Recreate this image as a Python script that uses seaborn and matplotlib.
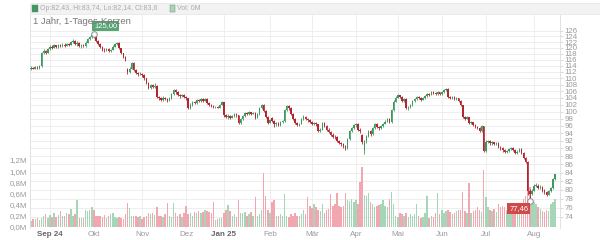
import numpy as np
import pandas as pd
import matplotlib
matplotlib.use("Agg")
import matplotlib.pyplot as plt
import seaborn as sns
from matplotlib.patches import Rectangle
from matplotlib.ticker import NullLocator, FixedLocator

# ---------------- data ----------------
start_date = "2024-08-20"
end_date = "2025-08-15"
holidays = ["2024-12-24", "2024-12-25", "2024-12-26", "2024-12-31",
            "2025-01-01", "2025-04-18", "2025-04-21", "2025-05-01"]

open_ = [
    113.0, 113.3, 113.1, 113.6, 113.4, 113.9, 118.4, 118.9, 118.4, 119.6,
    120.4, 120.0, 120.8, 120.3, 120.9, 120.6, 121.1, 120.7, 121.3, 121.0,
    121.9, 122.3, 121.2, 121.8, 120.5, 120.9, 120.6, 121.8, 122.9, 123.6,
    124.4, 123.8, 122.4, 121.3, 120.2, 119.4, 119.1, 119.5, 118.9, 119.3,
    120.4, 121.3, 121.6, 119.8, 118.1, 117.0, 113.0, 111.9, 113.0, 114.8,
    112.6, 111.6, 111.2, 111.5, 110.9, 110.0, 108.4, 107.0, 107.9, 107.4,
    107.6, 104.3, 104.0, 103.4, 104.1, 103.6, 103.2, 103.8, 105.2, 106.3,
    105.7, 104.8, 104.5, 104.9, 104.3, 103.9, 101.0, 102.0, 102.7, 102.5,
    103.3, 103.0, 103.6, 103.2, 103.8, 102.5, 101.8, 101.6, 101.2, 101.4,
    101.1, 102.0, 102.7, 98.9, 98.5, 98.8, 98.3, 98.7, 99.3, 98.9,
    96.8, 97.9, 98.8, 99.5, 99.3, 99.8, 99.4, 99.7, 98.3, 99.2,
    100.9, 101.9, 100.2, 98.4, 96.9, 98.3, 97.4, 96.5, 96.9, 96.3,
    97.0, 97.4, 100.4, 101.6, 101.0, 99.4, 97.9, 96.9, 96.2, 96.6,
    97.8, 98.6, 97.9, 97.5, 97.0, 96.6, 96.9, 96.4, 94.6, 95.0,
    96.9, 96.0, 95.0, 94.3, 93.6, 93.1, 92.9, 92.0, 91.5, 91.1,
    90.6, 90.0, 92.4, 94.6, 95.4, 96.2, 96.5, 95.0, 93.5, 89.6,
    91.9, 93.2, 94.6, 93.7, 95.3, 96.6, 95.8, 95.3, 96.0, 96.6,
    97.2, 97.9, 97.0, 100.4, 102.9, 104.1, 104.8, 104.3, 103.0, 103.8,
    101.0, 101.4, 101.8, 103.0, 103.6, 104.4, 104.0, 103.5, 103.9, 104.6,
    105.2, 105.0, 105.8, 105.5, 105.1, 105.7, 105.1, 105.8, 106.4, 106.7,
    104.4, 104.0, 104.3, 103.6, 103.9, 103.2, 101.9, 98.4, 98.0, 98.4,
    96.7, 97.0, 96.3, 95.8, 95.5, 94.6, 95.9, 89.3, 91.6, 91.9,
    91.3, 91.6, 91.1, 91.5, 90.4, 90.0, 89.6, 89.1, 89.3, 89.8,
    90.1, 89.6, 88.9, 89.2, 89.8, 88.9, 87.6, 86.6, 79.6, 79.1,
    79.8, 80.9, 80.9, 80.4, 80.7, 79.8, 79.4, 78.9, 79.6, 80.3, 82.43,
]
close = [
    113.3, 113.1, 113.6, 113.4, 113.8, 118.2, 118.9, 118.4, 119.6, 120.4,
    120.0, 120.8, 120.3, 120.9, 120.6, 121.1, 120.7, 121.3, 121.0, 121.9,
    122.3, 121.2, 121.8, 120.5, 120.9, 120.6, 121.8, 122.9, 123.6, 124.4,
    123.8, 122.4, 121.3, 120.2, 119.4, 119.1, 119.5, 118.9, 119.3, 120.4,
    121.3, 121.6, 119.8, 118.1, 117.0, 116.0, 111.9, 113.0, 114.8, 112.6,
    111.6, 111.2, 111.5, 110.9, 110.0, 108.4, 107.0, 107.9, 107.4, 107.6,
    104.3, 103.9, 103.4, 104.1, 103.6, 103.2, 103.8, 105.2, 106.3, 105.7,
    104.8, 104.5, 104.9, 104.3, 103.9, 101.0, 102.0, 102.7, 102.5, 103.3,
    103.0, 103.6, 103.2, 103.8, 102.5, 101.8, 101.6, 101.2, 101.4, 101.1,
    102.0, 102.7, 98.9, 98.5, 98.8, 98.3, 98.7, 99.3, 98.9, 96.8,
    97.9, 98.8, 99.5, 99.3, 99.8, 99.4, 99.7, 98.3, 99.2, 100.9,
    101.9, 100.2, 98.4, 96.9, 97.5, 97.4, 96.5, 96.9, 96.3, 97.0,
    97.4, 100.4, 101.6, 101.0, 99.4, 97.9, 96.9, 96.2, 96.6, 97.8,
    98.6, 97.9, 97.5, 97.0, 96.6, 96.9, 96.4, 94.6, 95.0, 96.9,
    96.0, 95.0, 94.3, 93.6, 93.1, 92.9, 92.0, 91.5, 91.1, 90.6,
    90.0, 92.4, 94.6, 95.4, 96.2, 96.5, 95.0, 94.6, 91.6, 91.9,
    93.2, 94.6, 93.7, 95.3, 96.6, 95.8, 95.3, 96.0, 96.6, 97.2,
    97.9, 97.0, 100.4, 102.9, 104.1, 104.8, 104.3, 103.0, 103.8, 101.0,
    101.4, 101.8, 103.0, 103.6, 104.4, 104.0, 103.5, 103.9, 104.6, 105.2,
    105.0, 105.8, 105.5, 105.1, 105.7, 105.1, 105.8, 106.4, 106.7, 104.4,
    104.0, 104.3, 103.6, 103.9, 103.2, 101.9, 98.4, 98.0, 98.4, 96.7,
    97.0, 96.3, 95.8, 95.5, 94.6, 95.9, 89.3, 91.6, 91.9, 91.3,
    91.6, 91.1, 91.5, 90.4, 90.0, 89.6, 89.1, 89.3, 89.8, 90.1,
    89.6, 88.9, 89.2, 89.8, 88.9, 87.6, 86.6, 79.6, 79.1, 79.8,
    80.9, 81.1, 80.4, 80.7, 79.8, 79.4, 78.9, 79.6, 80.3, 82.4, 83.6,
]
high = [
    113.8, 113.7, 113.9, 114.0, 114.2, 118.6, 119.5, 119.3, 120.0, 120.9,
    120.8, 121.2, 121.1, 121.3, 121.4, 121.5, 121.6, 121.7, 121.8, 122.4,
    122.9, 122.6, 122.2, 122.0, 121.3, 121.2, 122.2, 123.3, 124.0, 124.8,
    125.0, 124.0, 122.7, 121.6, 120.5, 119.8, 119.9, 119.8, 119.7, 120.8,
    121.7, 122.0, 121.9, 120.0, 118.4, 117.3, 113.4, 113.5, 115.3, 115.1,
    112.9, 112.0, 111.9, 111.7, 111.2, 110.2, 108.7, 108.3, 108.2, 108.5,
    107.9, 104.7, 104.3, 104.5, 104.4, 104.0, 104.2, 105.6, 106.8, 106.6,
    106.0, 105.1, 105.2, 105.1, 104.6, 104.0, 102.4, 103.0, 103.0, 103.6,
    103.6, 103.9, 103.9, 104.1, 104.0, 102.8, 102.1, 101.9, 101.6, 101.6,
    102.3, 103.0, 102.9, 99.3, 99.2, 99.0, 99.0, 99.6, 99.7, 99.1,
    98.2, 99.1, 99.8, 99.9, 100.1, 100.0, 100.0, 99.9, 99.5, 101.2,
    102.3, 102.1, 100.4, 98.7, 97.9, 98.6, 97.6, 97.2, 97.1, 97.4,
    97.7, 100.7, 102.0, 101.9, 101.2, 99.6, 98.2, 97.2, 96.9, 98.1,
    98.9, 98.8, 98.3, 97.8, 97.3, 97.2, 97.1, 96.6, 95.4, 97.2,
    97.1, 96.3, 95.3, 94.6, 94.0, 93.4, 93.2, 92.3, 91.8, 91.4,
    90.9, 92.7, 94.9, 95.8, 96.6, 96.9, 96.7, 95.3, 93.8, 92.3,
    93.6, 95.0, 94.9, 95.6, 96.9, 96.9, 96.1, 96.3, 96.9, 97.6,
    98.3, 98.1, 100.7, 103.3, 104.5, 105.2, 105.0, 104.5, 104.1, 104.0,
    101.7, 102.1, 103.3, 103.9, 104.7, 104.6, 104.2, 104.2, 104.9, 105.5,
    105.6, 106.1, 106.0, 105.8, 106.0, 105.9, 106.1, 106.8, 107.1, 106.9,
    104.7, 104.6, 104.5, 104.2, 104.1, 103.4, 102.0, 98.7, 98.7, 98.6,
    97.4, 97.2, 96.5, 96.0, 95.7, 96.3, 96.1, 92.2, 92.3, 92.1,
    91.9, 91.8, 91.8, 91.7, 90.7, 90.3, 89.9, 89.6, 90.1, 90.4,
    90.3, 89.8, 89.5, 90.1, 90.0, 89.1, 87.9, 86.8, 80.1, 80.2,
    81.3, 81.5, 81.2, 81.0, 80.9, 80.1, 79.7, 79.9, 80.6, 82.7, 83.74,
]
low = [
    112.6, 112.8, 112.9, 113.0, 113.1, 113.7, 118.0, 117.9, 118.2, 119.3,
    119.6, 119.8, 119.9, 120.0, 120.2, 120.3, 120.4, 120.5, 120.6, 120.8,
    121.6, 120.9, 120.6, 120.2, 120.1, 120.2, 120.4, 121.6, 122.6, 123.3,
    123.4, 122.1, 121.0, 119.9, 119.0, 118.6, 118.8, 118.5, 118.6, 119.1,
    120.2, 120.9, 119.5, 117.8, 116.6, 115.6, 111.3, 111.6, 112.8, 112.3,
    111.2, 110.8, 110.9, 110.5, 109.6, 108.1, 106.7, 106.8, 107.1, 107.0,
    104.0, 103.5, 103.0, 103.2, 103.3, 102.8, 103.0, 103.6, 105.0, 105.3,
    104.5, 104.1, 104.2, 104.0, 103.5, 100.7, 100.8, 101.7, 102.1, 102.3,
    102.7, 102.8, 102.9, 103.0, 102.2, 101.5, 101.2, 100.9, 101.0, 100.9,
    100.9, 101.8, 98.6, 98.2, 98.0, 98.0, 98.1, 98.5, 98.6, 96.5,
    96.6, 97.7, 98.6, 99.0, 99.1, 99.1, 99.2, 97.9, 98.1, 99.0,
    100.7, 99.9, 98.1, 96.6, 96.7, 97.1, 95.8, 96.1, 95.9, 96.1,
    96.8, 97.2, 100.2, 100.6, 99.1, 97.6, 96.6, 95.9, 95.9, 96.4,
    97.6, 97.6, 97.1, 96.7, 96.3, 96.3, 96.1, 94.3, 94.3, 94.8,
    95.7, 94.7, 94.0, 93.2, 92.8, 92.5, 91.7, 91.1, 90.7, 90.2,
    89.6, 89.8, 92.2, 94.3, 95.1, 95.8, 94.7, 94.1, 91.2, 88.6,
    91.3, 92.9, 93.3, 93.5, 95.1, 95.5, 95.0, 95.1, 95.8, 96.4,
    97.0, 96.7, 96.9, 100.2, 102.7, 103.9, 104.0, 102.7, 102.8, 100.7,
    100.6, 101.1, 101.6, 102.8, 103.4, 103.7, 103.2, 103.3, 103.7, 104.4,
    104.7, 104.8, 105.2, 104.8, 104.9, 104.8, 104.9, 105.6, 106.2, 104.1,
    103.7, 103.8, 103.3, 103.4, 102.9, 101.6, 98.1, 97.7, 97.8, 96.4,
    96.5, 96.0, 95.5, 95.1, 94.3, 94.4, 89.0, 89.1, 91.3, 91.0,
    91.0, 90.8, 90.9, 90.1, 89.7, 89.2, 88.8, 88.9, 89.1, 89.6,
    89.3, 88.6, 88.7, 89.0, 88.6, 87.3, 86.3, 78.8, 77.46, 78.8,
    79.6, 80.6, 80.1, 80.2, 79.5, 79.1, 78.5, 78.7, 79.4, 80.2, 82.14,
]
volume_m = [
    0.11, 0.13, 0.14, 0.15, 0.12, 0.16, 0.20, 0.23, 0.16, 0.21,
    0.18, 0.24, 0.17, 0.21, 0.28, 0.19, 0.20, 0.25, 0.22, 0.31,
    0.20, 0.23, 0.48, 0.15, 0.15, 0.16, 0.30, 0.28, 0.30, 0.35,
    0.30, 0.20, 0.19, 0.20, 0.18, 0.21, 0.16, 0.20, 0.22, 0.24,
    0.18, 0.16, 0.17, 0.15, 0.14, 0.22, 0.43, 0.33, 0.20, 0.20,
    0.19, 0.17, 0.20, 0.14, 0.18, 0.20, 0.24, 0.22, 0.24, 0.21,
    0.36, 0.20, 0.19, 0.18, 0.22, 0.43, 0.20, 0.17, 0.42, 0.25,
    0.20, 0.22, 0.18, 0.24, 0.37, 0.22, 0.25, 0.20, 0.27, 0.24,
    0.28, 0.25, 0.27, 0.30, 0.28, 0.26, 0.25, 0.45, 0.12, 0.14,
    0.15, 0.16, 0.25, 0.30, 0.39, 0.28, 0.20, 0.22, 0.17, 0.48,
    0.25, 0.24, 0.27, 0.20, 0.22, 0.26, 0.20, 0.53, 0.20, 0.22,
    0.30, 0.96, 0.55, 0.30, 0.25, 0.45, 0.48, 0.20, 0.19, 0.22,
    0.20, 0.59, 0.20, 0.18, 0.22, 0.20, 0.25, 0.19, 0.20, 0.22,
    0.30, 0.22, 0.54, 0.38, 0.33, 0.40, 0.35, 0.30, 0.28, 0.40,
    0.25, 0.30, 0.32, 0.59, 0.38, 0.40, 0.60, 0.38, 0.35, 0.38,
    0.61, 0.48, 0.47, 0.50, 0.45, 0.48, 0.40, 0.81, 1.07, 0.57,
    0.55, 0.60, 0.45, 0.40, 0.35, 0.38, 0.39, 0.40, 0.48, 0.38,
    0.35, 0.49, 0.63, 0.40, 0.20, 0.18, 0.25, 0.22, 0.20, 0.25,
    0.18, 0.22, 0.20, 0.23, 0.40, 0.20, 0.15, 0.18, 0.25, 0.56,
    0.15, 0.20, 0.18, 0.25, 0.60, 0.22, 0.30, 0.25, 0.28, 0.30,
    0.27, 0.22, 0.25, 0.28, 0.30, 0.30, 0.63, 0.28, 0.25, 0.78,
    0.25, 0.28, 0.30, 0.35, 0.30, 0.27, 1.02, 0.54, 0.35, 0.30,
    0.28, 0.32, 0.27, 0.40, 0.36, 0.38, 0.35, 0.30, 0.36, 0.33,
    0.30, 0.35, 0.32, 0.38, 0.36, 0.50, 0.55, 0.85, 0.72, 0.48,
    0.45, 0.40, 0.35, 0.32, 0.28, 0.27, 0.30, 0.28, 0.40, 0.44, 0.50,
]
month_labels = ["Sep 24", "Okt", "Nov", "Dez", "Jan 25", "Feb", "Mär",
                "Apr", "Mai", "Jun", "Jul", "Aug"]
bold_labels = ["Sep 24", "Jan 25"]
price_ticks = list(range(74, 127, 2))
volume_ticks = [0.0, 0.2, 0.4, 0.6, 0.8, 1.0, 1.2]
title_text = "1 Jahr, 1-Tages-Kerzen"

# ---------------- style ----------------
sns.set_theme(style="white")
plt.rcParams["font.family"] = ["Liberation Sans", "DejaVu Sans"]

C_UP, C_DOWN = "#3c9a5f", "#b3262f"
V_UP, V_DOWN = "#a6d6b8", "#f2a6b0"
GRID = "#ebebeb"
TXT = "#9a9a9a"

n = len(close)
dates = pd.bdate_range(start_date, end_date)
dates = dates[~dates.isin(pd.to_datetime(holidays))][:n]
df = pd.DataFrame({"idx": np.arange(n), "date": dates, "open": open_,
                   "close": close, "high": high, "low": low, "vol": volume_m})
df["dir"] = np.where(df["close"] >= df["open"], "up", "down")
firsts = df.groupby(df["date"].dt.to_period("M"))["idx"].min().sort_index()
month_pos = list(firsts.values[1:1 + len(month_labels)])

W, H = 600, 240
fig = plt.figure(figsize=(6, 2.4), dpi=100)
rect = [30 / W, 12 / H, 530 / W, 213 / H]
axg = fig.add_axes(rect, zorder=0)
axv = fig.add_axes(rect, zorder=1, sharex=axg)
axp = fig.add_axes(rect, zorder=2, sharex=axg)
for a in (axv, axp):
    a.patch.set_visible(False)

# price y-limits (log scale)
plo, phi = 71.7, 131.8
for a in (axg, axp):
    a.set_yscale("log")
    a.set_ylim(plo, phi)
    a.yaxis.set_minor_locator(NullLocator())
    a.yaxis.set_major_locator(FixedLocator(price_ticks))

# background grid
axg.grid(True, color=GRID, lw=0.6)
axg.tick_params(left=False, right=False, bottom=False, labelleft=False,
                labelbottom=False)
for s in axg.spines.values():
    s.set_visible(False)

# volume (seaborn)
sns.barplot(data=df, x="idx", y="vol", hue="dir", native_scale=True,
            palette={"up": V_UP, "down": V_DOWN}, dodge=False, width=0.7,
            saturation=1, errorbar=None, legend=False, linewidth=0, ax=axv)
axv.set_ylim(-0.023, 3.81)
axv.set_yticks(volume_ticks)
axv.set_yticklabels([f"{v:.1f}M".replace(".", ",") for v in volume_ticks])
axv.set_xlabel("")
axv.set_ylabel("")
axv.grid(False)
axv.tick_params(axis="y", left=False, length=0, pad=2, labelsize=5.7,
                colors=TXT)
for s in ("top", "right", "bottom"):
    axv.spines[s].set_visible(False)
axv.spines["left"].set_color("#dddddd")
axv.spines["left"].set_linewidth(0.6)

# candles
colors = np.where(df["dir"] == "up", C_UP, C_DOWN)
body_lo = np.minimum(df["open"], df["close"])
body_h = np.maximum(np.abs(df["close"] - df["open"]), 0.12)
axp.vlines(df["idx"], df["low"], df["high"], colors=colors, lw=0.6, zorder=3)
axp.bar(df["idx"], body_h, bottom=body_lo, width=0.72, color=colors,
        linewidth=0, zorder=4)
axp.yaxis.tick_right()
axp.set_yticklabels([str(t) for t in price_ticks])
axp.tick_params(axis="y", right=True, left=False, length=2, width=0.5,
                color="#cccccc", pad=1.5, labelsize=5.7, labelcolor=TXT)
axp.tick_params(axis="x", bottom=False, labelbottom=False)
axp.grid(False)
for s in ("top", "left", "bottom"):
    axp.spines[s].set_visible(False)
axp.spines["right"].set_color("#dddddd")
axp.spines["right"].set_linewidth(0.6)

# x axis
axg.set_xlim(-0.5, 252.4)
axv.set_xticks(month_pos)
axv.set_xticklabels(month_labels)
axv.tick_params(axis="x", bottom=False, length=0, pad=2.5, labelsize=5.8,
                labelcolor=TXT)
for lab in axv.get_xticklabels():
    if lab.get_text() in bold_labels:
        lab.set_fontweight("bold")
        lab.set_color("#666666")

# high / low markers
ih = int(np.argmax(df["high"].values))
il = int(np.argmin(df["low"].values))
vh = df["high"].iloc[ih]
vl = df["low"].iloc[il]
for i, v, col, off in ((ih, vh, "#5aa574", (12, 7.5)),
                       (il, vl, "#cf4a4a", (-11, -7.5))):
    axp.plot(i, v, "o", ms=4, mfc="white", mec="#8a8a8a", mew=0.7, zorder=6)
    axp.annotate(f"{v:.2f}".replace(".", ","), xy=(i, v), xytext=off,
                 textcoords="offset pixels", ha="center", va="center",
                 fontsize=5.5, color="white", zorder=7,
                 bbox=dict(boxstyle="square,pad=0.25", fc=col, ec="none"))

# title
fig.text(33 / W, 1 - 21 / H, title_text, fontsize=6.8, color="#777777",
         ha="left", va="center")

# top legend bar
last = df.iloc[-1]
fmt = lambda v: f"{v:g}".replace(".", ",")
fig.patches.append(Rectangle((30 / W, 1 - 14 / H), 570 / W, 11 / H,
                             transform=fig.transFigure, fc="#f2f2f2",
                             ec="#e4e4e4", lw=0.5, zorder=0))
fig.patches.append(Rectangle((32 / W, 1 - 11.5 / H), 6 / W, 6 / H,
                             transform=fig.transFigure, fc=C_UP,
                             ec="#777777", lw=0.3))
fig.text(40 / W, 1 - 8.5 / H,
         f"Op:{fmt(last['open'])}, Hi:{fmt(last['high'])}, "
         f"Lo:{fmt(last['low'])}, Cl:{fmt(last['close'])}",
         fontsize=5, color="#aaaaaa", ha="left", va="center")
fig.patches.append(Rectangle((170 / W, 1 - 11.5 / H), 5 / W, 6 / H,
                             transform=fig.transFigure, fc=V_UP,
                             ec="#777777", lw=0.3))
fig.text(177 / W, 1 - 8.5 / H, "Vol: 0M", fontsize=5, color="#aaaaaa",
         ha="left", va="center")

fig.savefig("out.png", dpi=100)
